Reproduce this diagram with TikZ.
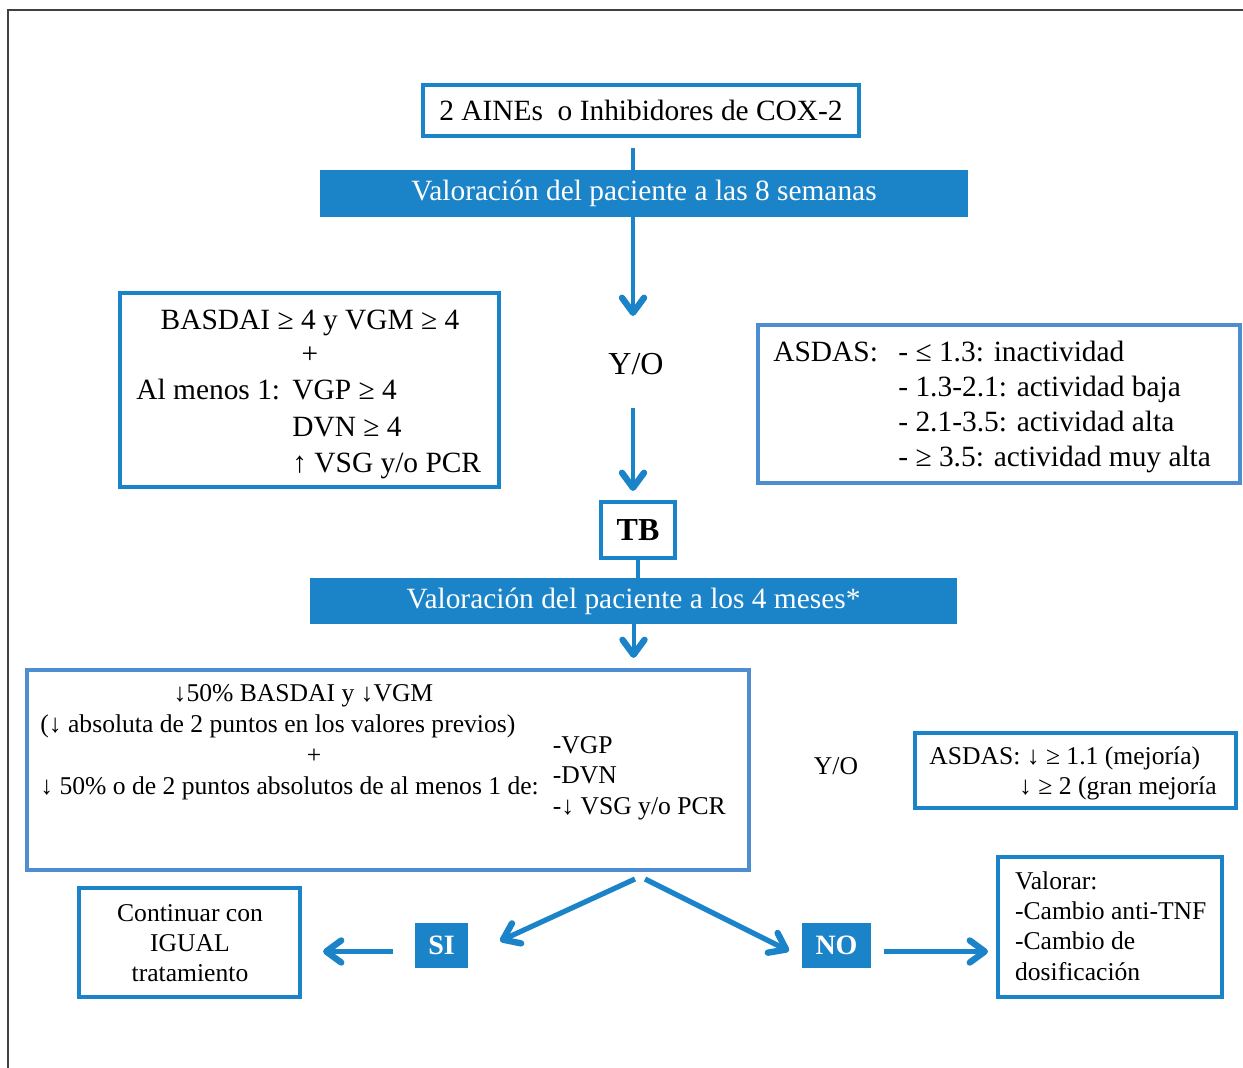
\documentclass[tikz,border=0pt]{standalone}
\usepackage{fontspec}
\setmainfont{Liberation Serif}
\usetikzlibrary{arrows.meta, positioning, calc}
\definecolor{azul}{RGB}{27,132,201}
\definecolor{azulclaro}{RGB}{78,142,208}
\newcommand{\fgr}{\fontsize{14.7}{18}\selectfont}
\newcommand{\fch}{\fontsize{12.8}{15.5}\selectfont}

\begin{document}
\begin{tikzpicture}[x=0.5pt, y=-0.5pt,
  caja/.style={draw=azul, line width=2pt, inner sep=0pt},
  cajaclara/.style={caja, draw=azulclaro},
  barra/.style={fill=azul, inner sep=0pt, text=white, font=\fgr},
  etiq/.style={fill=azul, inner sep=0pt, text=white, font=\fontsize{14}{16}\selectfont\bfseries},
  txt/.style={inner sep=0pt, font=\fgr},
  txtc/.style={inner sep=0pt, font=\fch},
  linea/.style={draw=azul, line width=2pt},
  flecha/.style={linea, -{Straight Barb[length=7.5pt, width=11pt, line width=3.2pt, round]}},
  flechag/.style={flecha, line width=2.6pt}]

  \useasboundingbox (0,0) rectangle (1243,1068);
  \draw[black!75, line width=0.7pt] (8,1068) -- (8,10) -- (1243,10);

  % inicio y primera valoracion
  \node[caja, minimum width=218pt, minimum height=25.5pt, font=\fgr] (aines) at (641,110.5) {2 AINEs\ \ o Inhibidores de COX-2};
  \node[barra, minimum width=324pt, minimum height=23.5pt] (val8) at (644,193.5) {Valoración del paciente a las 8 semanas};

  % criterios BASDAI
  \node[caja, minimum width=189.5pt, minimum height=97pt] (basdai) at (309.5,390) {};
  \node[txt, anchor=base] at (310,330) {BASDAI ≥ 4 y VGM ≥ 4};
  \node[txt] at (310,355) {+};
  \node[txt, anchor=base west] at (136,400) {Al menos 1:};
  \foreach \y/\t in {400/{VGP ≥ 4}, 436.5/{DVN ≥ 4}, 473/{↑ VSG y/o PCR}}
    \node[txt, anchor=base west] at (292,\y) {\t};

  \node[inner sep=0pt, font=\fontsize{16}{19}\selectfont, anchor=base] (yo1) at (636,375) {Y/O};

  % actividad ASDAS
  \node[cajaclara, minimum width=241pt, minimum height=79pt] (asdas) at (999,404) {};
  \node[txt, anchor=base west] at (773,361.7) {ASDAS:};
  \foreach \y/\t in {361.7/{- ≤ 1.3: inactividad}, 396.7/{- 1.3-2.1: actividad baja},
                     431.7/{- 2.1-3.5: actividad alta}, 466.7/{- ≥ 3.5: actividad muy alta}}
    \node[txt, anchor=base west] at (898,\y) {\t};

  \node[caja, minimum width=37pt, minimum height=28pt, font=\fontsize{16}{19}\selectfont\bfseries] (tb) at (638,530) {TB};
  \node[barra, minimum width=323.5pt, minimum height=23pt] (val4) at (633.5,601) {Valoración del paciente a los 4 meses*};

  % respuesta a los 4 meses
  \node[cajaclara, minimum width=361pt, minimum height=100pt] (respuesta) at (388,770) {};
  \node[txtc, anchor=base] at (303.5,701.7) {↓50\% BASDAI y ↓VGM};
  \node[txtc, anchor=base west] at (40,732.7) {(↓ absoluta de 2 puntos en los valores previos)};
  \node[txtc] at (314,756.7) {+};
  \node[txtc, anchor=base west] at (40,795) {↓ 50\% o de 2 puntos absolutos de al menos 1 de:};
  \foreach \y/\t in {753.3/-VGP, 784/-DVN, 815/{-↓ VSG y/o PCR}}
    \node[txtc, anchor=base west] at (552.5,\y) {\t};

  \node[txtc, anchor=base] (yo2) at (836,775) {Y/O};

  \node[caja, minimum width=160.5pt, minimum height=37.5pt] (mejoria) at (1075.5,770.5) {};
  \node[txtc, anchor=base west] at (929,765) {ASDAS: ↓ ≥ 1.1 (mejoría)};
  \node[txtc, anchor=base east] at (1217,795) {↓ ≥ 2 (gran mejoría};

  % decision
  \node[etiq, minimum width=26.5pt, minimum height=22.5pt] (si) at (441.5,945.5) {SI};
  \node[etiq, minimum width=34.5pt, minimum height=22.5pt] (no) at (836.5,945.5) {NO};

  \node[caja, minimum width=110.5pt, minimum height=54.5pt] (continuar) at (189.5,942.5) {};
  \foreach \y/\t in {921.7/Continuar con, 951.7/IGUAL, 981.7/tratamiento}
    \node[txtc, anchor=base] at (190,\y) {\t};

  \node[caja, minimum width=112pt, minimum height=70pt] (valorar) at (1110,927) {};
  \foreach \y/\t in {890/Valorar:, 920/-Cambio anti-TNF, 950/-Cambio de, 980.7/dosificación}
    \node[txtc, anchor=base west] at (1014.7,\y) {\t};

  % conectores
  \coordinate (ini) at (633,148);
  \coordinate (fin1) at (633,316);
  \coordinate (ini2) at (633,408);
  \draw[linea] (ini) -- (ini |- val8.north);
  \draw[flecha] (ini |- val8.south) -- (fin1);
  \draw[flecha, shorten >=4.5pt] (ini2) -- (ini2 |- tb.north);
  \draw[linea] (tb.south) -- (tb.south |- val4.north);
  \draw[flecha, shorten >=5pt] (val4.south) -- (val4.south |- respuesta.north);

  \coordinate (ramaSI) at (635,879);
  \coordinate (puntaSI) at (500,941);
  \coordinate (ramaNO) at (645,879);
  \coordinate (puntaNO) at (789,951);
  \draw[flechag] (ramaSI) -- (puntaSI);
  \draw[flechag] (ramaNO) -- (puntaNO);
  \draw[flechag, shorten <=11pt, shorten >=10.5pt] ([yshift=-3pt]si.west) -- ([yshift=-3pt]si.west -| continuar.east);
  \draw[flechag, shorten <=6.5pt, shorten >=4pt] ([yshift=-3pt]no.east) -- ([yshift=-3pt]no.east -| valorar.west);
\end{tikzpicture}
\end{document}
